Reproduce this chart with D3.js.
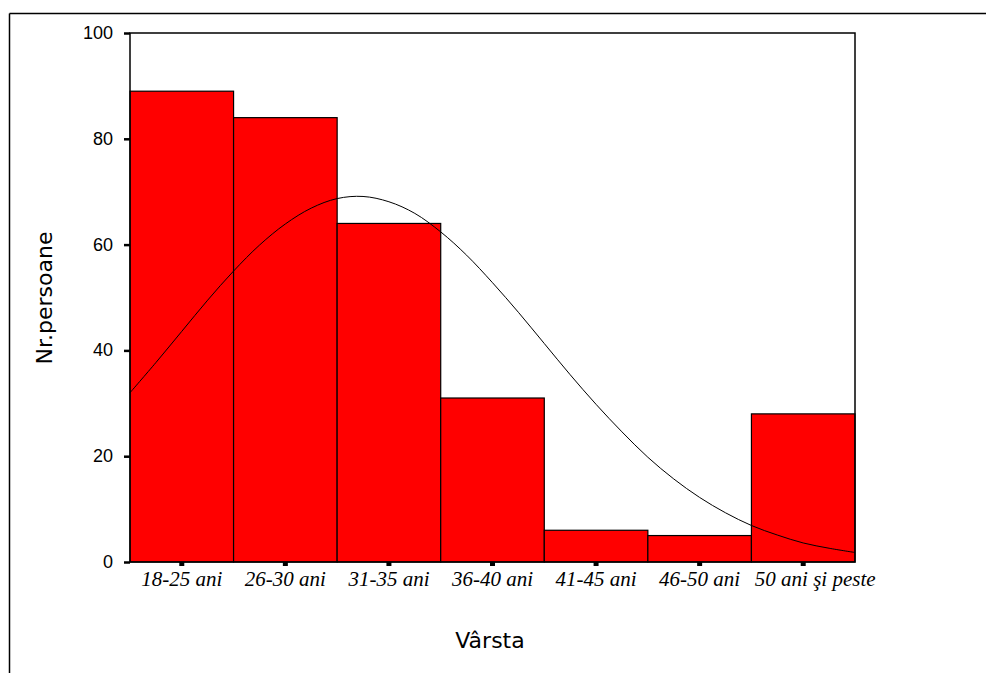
<!DOCTYPE html>
<html>
<head>
<meta charset="utf-8">
<script src="https://cdn.jsdelivr.net/npm/d3@7"></script>
<style>
  body { margin: 0; background: #fff; }
  svg { display: block; }
</style>
</head>
<body>
<div id="chart"></div>
<script>
// age groups and number of persons in each
const categories = ['18-25 ani', '26-30 ani', '31-35 ani', '36-40 ani', '41-45 ani', '46-50 ani', '50 ani şi peste'];
const counts = [89, 84, 64, 31, 6, 5, 28];

// normal curve (x in category units, 1 = first group)
const curveX = [0.5, 0.75, 1, 1.25, 1.5, 1.75, 2, 2.25, 2.5, 2.75, 3, 3.25, 3.5, 3.75, 4, 4.25,
  4.5, 4.75, 5, 5.25, 5.5, 5.75, 6, 6.25, 6.5, 6.75, 7, 7.25, 7.5];
const curveY = [32.0, 37.7, 43.6, 49.5, 55.0, 59.9, 63.9, 66.9, 68.7, 69.1, 68.1, 65.9, 62.4, 58.0, 52.8, 47.2,
  41.3, 35.4, 29.8, 24.6, 19.8, 15.7, 12.2, 9.3, 6.9, 5.1, 3.6, 2.6, 1.8];

const yTicks = [0, 20, 40, 60, 80, 100];

const W = 986, H = 673;
const plot = { left: 130, right: 855, top: 33, bottom: 562 };

const svg = d3.select('#chart').append('svg')
  .attr('width', W)
  .attr('height', H);

// outer frame (only top and left edges are visible)
svg.append('line')
  .attr('x1', 9.5).attr('x2', W).attr('y1', 13.5).attr('y2', 13.5)
  .attr('stroke', '#000').attr('stroke-width', 1.5);
svg.append('line')
  .attr('x1', 9.5).attr('x2', 9.5).attr('y1', 13.5).attr('y2', H)
  .attr('stroke', '#000').attr('stroke-width', 1.5);

const x = d3.scaleBand()
  .domain(categories)
  .range([plot.left, plot.right])
  .padding(0);

const xc = d3.scaleLinear()
  .domain([0.5, categories.length + 0.5])
  .range([plot.left, plot.right]);

const y = d3.scaleLinear()
  .domain([0, 100])
  .range([plot.bottom, plot.top]);

// bars
svg.append('g')
  .selectAll('rect')
  .data(categories)
  .enter()
  .append('rect')
  .attr('x', d => x(d))
  .attr('y', (d, i) => y(counts[i]))
  .attr('width', x.bandwidth())
  .attr('height', (d, i) => y(0) - y(counts[i]))
  .attr('fill', '#ff0000')
  .attr('stroke', '#000')
  .attr('stroke-width', 1.2);

// normal curve
const line = d3.line()
  .x((d, i) => xc(curveX[i]))
  .y(d => y(d))
  .curve(d3.curveCatmullRom);

svg.append('path')
  .datum(curveY)
  .attr('d', line)
  .attr('fill', 'none')
  .attr('stroke', '#000')
  .attr('stroke-width', 1);

// plot frame
svg.append('rect')
  .attr('x', plot.left)
  .attr('y', plot.top)
  .attr('width', plot.right - plot.left)
  .attr('height', plot.bottom - plot.top)
  .attr('fill', 'none')
  .attr('stroke', '#000')
  .attr('stroke-width', 1.5);

// y axis
const yAxis = svg.append('g')
  .attr('transform', `translate(${plot.left},0)`)
  .call(d3.axisLeft(y).tickValues(yTicks).tickSize(6).tickPadding(11));
yAxis.select('.domain').remove();
yAxis.selectAll('line').attr('stroke', '#000').attr('stroke-width', 2.5);
yAxis.selectAll('text')
  .attr('font-family', '"Liberation Sans", Arial, sans-serif')
  .attr('font-size', '18px')
  .attr('fill', '#000')
  .attr('dy', '0.3em');

// x axis
const xAxis = svg.append('g')
  .attr('transform', `translate(0,${plot.bottom})`)
  .call(d3.axisBottom(x).tickSize(4).tickPadding(5));
xAxis.select('.domain').remove();
xAxis.selectAll('line').attr('stroke', '#000').attr('stroke-width', 5);
xAxis.selectAll('text')
  .attr('font-family', '"Liberation Serif", "Times New Roman", serif')
  .attr('font-style', 'italic')
  .attr('font-size', '21px')
  .attr('fill', '#000');
// last label sits a little to the right so it clears its neighbour
xAxis.selectAll('.tick text')
  .filter(d => d === categories[categories.length - 1])
  .attr('dx', 12);

// axis titles
svg.append('text')
  .attr('x', 490)
  .attr('y', 648)
  .attr('text-anchor', 'middle')
  .attr('font-family', '"DejaVu Sans", Verdana, sans-serif')
  .attr('font-size', '22px')
  .attr('fill', '#000')
  .text('Vârsta');

svg.append('text')
  .attr('transform', 'translate(52,298) rotate(-90)')
  .attr('text-anchor', 'middle')
  .attr('font-family', '"DejaVu Sans", Verdana, sans-serif')
  .attr('font-size', '22px')
  .attr('fill', '#000')
  .text('Nr.persoane');
</script>
</body>
</html>
